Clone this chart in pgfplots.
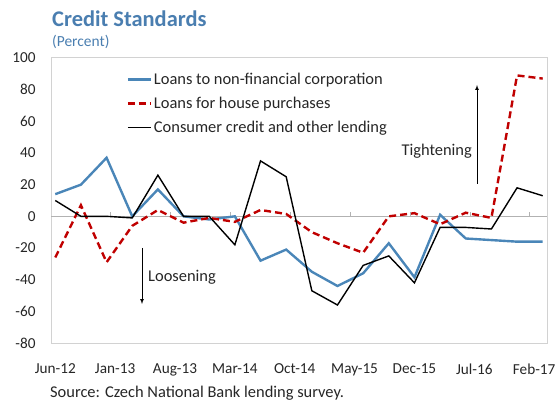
\documentclass[border=0pt]{standalone}
\usepackage{pgfplots}
\pgfplotsset{compat=1.18}
\usepackage{fontspec}
\setmainfont{Carlito}
\definecolor{imfblue}{RGB}{74,126,176}
\definecolor{lineblue}{RGB}{74,134,184}
\definecolor{linered}{RGB}{192,0,0}
\definecolor{framegray}{RGB}{210,210,210}

% months since Jun-12, quarterly survey rounds
\pgfplotstableread{
m   nfc  house  cons
0   14   -26    10
3   20     7     0
6   37   -29     0
9    0    -6    -1
12  17     4    26
15   0    -4     0
18  -2    -1     0
21   0    -3.5 -18
24 -28     4    35
27 -21     1.5  25
30 -35   -10   -47
33 -44   -17   -56
36 -36   -23   -31
39 -17     0   -25
42 -38.5   2   -42
45   1    -5    -7
48 -14     2.3  -7
51 -15    -1    -8
54 -16    89    18
57 -16    87    13
}\credit

\begin{document}
\begin{tikzpicture}
\path[use as bounding box] (0,0) rectangle (557bp,404bp);
\begin{axis}[
  at={(51bp,61bp)}, anchor=south west,
  width=496bp, height=285bp, scale only axis,
  xmin=-0.5, xmax=57.5, ymin=-80, ymax=100,
  ytick={-80,-60,...,100},
  xtick={0,7,...,56},
  xticklabels={Jun-12,Jan-13,Aug-13,Mar-14,Oct-14,May-15,Dec-15,Jul-16,Feb-17},
  major tick length=0pt,
  axis line style={framegray, line width=1pt},
  ticklabel style={font=\fontsize{15.3}{18}\selectfont, text=black!85},
  yticklabel style={xshift=-12bp},
  xticklabel style={yshift=-17bp},
  /pgf/number format/assume math mode=true,
  legend style={draw=none, fill=none, at={(0.152,0.955)}, anchor=north west,
    font=\fontsize{16.5}{19}\selectfont, text=black!85, row sep=7bp,
    inner sep=0pt},
  legend cell align=left,
  legend image code/.code={\draw[#1] (0bp,0bp) -- (23bp,0bp);},
  clip=false,
]
\draw[framegray!85!black, line width=0.8pt] (axis cs:-0.5,0) -- (axis cs:57.5,0);
\pgfplotsinvokeforeach{6.5,13.5,20.5,27.5,34.5,41.5,48.5,55.5}{
  \draw[framegray!85!black, line width=0.8pt] (axis cs:#1,0) -- ([yshift=4bp]axis cs:#1,0);
}
\addplot[lineblue, line width=2.4pt] table[x=m, y=nfc] {\credit};
\addplot[linered, line width=2.4pt, dash pattern=on 7bp off 4bp] table[x=m, y=house] {\credit};
\addplot[black, line width=1.4pt] table[x=m, y=cons] {\credit};
\legend{Loans to non-financial corporation, Loans for house purchases, Consumer credit and other lending}
\end{axis}
\node[anchor=base west, inner sep=0pt, text=imfblue, font=\fontsize{22.5}{26}\selectfont\bfseries] at (52bp,377bp) {Credit Standards};
\node[anchor=base west, inner sep=0pt, text=imfblue, font=\fontsize{15.5}{18}\selectfont] at (52bp,357bp) {(Percent)};
\node[anchor=base west, inner sep=0pt, text=black!85, font=\fontsize{16.5}{19}\selectfont] at (50bp,7bp) {Source: Czech National Bank lending survey.};
\draw[-latex, line width=0.7pt] (477bp,220bp) -- (477bp,319bp);
\node[anchor=base east, inner sep=0pt, text=black!85, font=\fontsize{16.5}{19}\selectfont] at (472bp,248bp) {Tightening};
\draw[-latex, line width=0.7pt] (142bp,156bp) -- (142bp,100bp);
\node[anchor=base west, inner sep=0pt, text=black!85, font=\fontsize{16.5}{19}\selectfont] at (148bp,122bp) {Loosening};
\end{tikzpicture}
\end{document}
